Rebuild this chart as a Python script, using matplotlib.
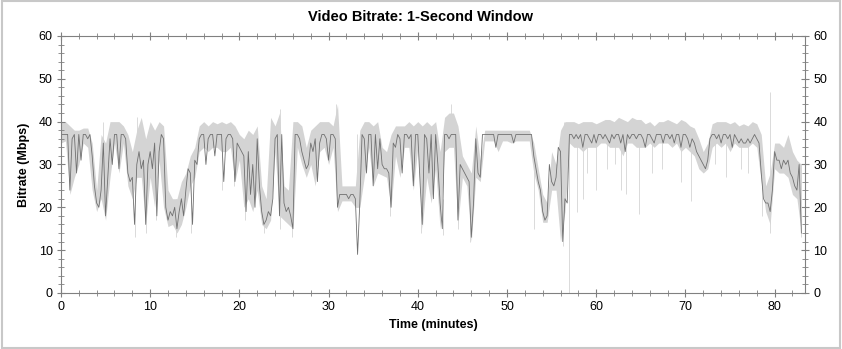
import numpy as np
import matplotlib
matplotlib.use("Agg")
import matplotlib.pyplot as plt
from matplotlib.patches import Rectangle
from matplotlib.ticker import MultipleLocator

# Bitrate trace (Mbps), one value every 0.25 minutes
bitrate = [
    37, 37, 37, 37, 24, 36, 37, 28, 37, 31, 37, 37, 36, 37, 32, 25, 21, 20, 24, 35,
    18, 27, 36, 30, 37, 37, 29, 37, 37, 36, 28, 26, 27, 16, 30, 33, 29, 31, 16, 30,
    33, 29, 35, 18, 33, 37, 36, 20, 17, 19, 18, 20, 15, 19, 22, 18, 24, 29, 28, 16,
    31, 30, 36, 37, 37, 30, 36, 37, 37, 32, 37, 37, 37, 26, 36, 37, 37, 36, 26, 35,
    34, 33, 32, 19, 33, 23, 30, 20, 36, 25, 19, 16, 17, 19, 18, 22, 36, 37, 18, 37,
    21, 19, 20, 18, 15, 37, 37, 36, 33, 31, 29, 30, 35, 33, 36, 26, 35, 37, 37, 36,
    31, 37, 37, 36, 20, 23, 23, 23, 23, 22, 23, 23, 22, 9, 21, 37, 36, 28, 37, 37,
    25, 37, 29, 36, 30, 29, 29, 28, 20, 35, 34, 37, 36, 28, 37, 37, 36, 37, 25, 37,
    37, 26, 16, 37, 36, 28, 37, 22, 37, 30, 21, 15, 37, 37, 36, 37, 37, 37, 17, 30,
    29, 28, 27, 26, 13, 21, 36, 28, 27, 37, 37, 37, 37, 37, 37, 34, 37, 37, 37, 37,
    37, 37, 37, 35, 37, 37, 37, 37, 37, 37, 37, 37, 32, 29, 26, 24, 19, 17, 18, 30,
    26, 25, 27, 34, 33, 12, 22, 21, 37, 37, 36, 37, 36, 37, 34, 37, 37, 36, 35, 37,
    35, 37, 37, 36, 37, 36, 35, 37, 36, 37, 37, 35, 37, 33, 37, 36, 37, 37, 36, 37,
    37, 36, 34, 37, 37, 36, 35, 37, 37, 37, 35, 37, 37, 36, 37, 35, 37, 37, 34, 37,
    37, 36, 34, 36, 35, 33, 32, 31, 30, 29, 31, 36, 37, 37, 36, 37, 35, 37, 37, 36,
    37, 34, 37, 36, 35, 36, 35, 35, 36, 35, 36, 37, 36, 35, 28, 22, 21, 21, 19, 24,
    33, 31, 31, 29, 31, 30, 31, 28, 27, 25, 24, 30, 14,
]
t_line = np.arange(len(bitrate)) * 0.25

# Min / max envelope of the 1-second window, every 0.5 minutes
band_hi = [
    40, 40, 39, 38, 38, 38.5, 38.5, 35, 24, 37,
    35, 40, 40, 40, 39, 37, 33, 38, 41, 36,
    40, 38, 40, 39, 24, 22, 22, 26, 28, 32,
    34, 39, 40, 39, 40, 39.5, 40, 39.5, 40, 39,
    37, 36, 38, 37, 39, 25, 22, 41, 39, 42,
    25, 24, 40, 40, 39, 34, 38, 39, 40, 40,
    40, 39, 44, 25, 25, 25, 25, 38, 40, 40,
    39, 40, 34, 33, 37, 39, 39, 39, 40, 39,
    40, 39, 40, 39, 40, 33, 41, 42, 42, 39,
    32, 30, 28, 39, 31, 38, 38, 38, 38, 38,
    38, 38, 38, 38, 38, 38, 35, 29, 23, 21,
    33, 30, 38, 40, 40, 40, 39.5, 40, 40, 40,
    39.5, 40, 40.5, 40.5, 40, 41, 40.5, 40, 41, 40.5,
    40.5, 39.5, 40, 39, 40, 40, 40.5, 40, 39.5, 40.5,
    40, 39, 38.5, 36, 33, 35, 39.5, 40, 40, 40,
    39.5, 40, 39, 39.5, 39, 40, 39.5, 37, 25, 28,
    35, 35, 34, 37, 33, 31, 30,
]
band_lo = [
    35, 35.5, 23, 27, 30, 35, 34, 24, 19, 22,
    17, 27, 35, 28, 35, 25, 22, 27, 27, 16,
    27, 20, 31, 20, 15.5, 16, 14, 16, 20, 25,
    27, 33, 34, 33, 34, 34, 33, 33, 34, 26,
    31, 20, 22, 19, 24, 16, 15, 17, 33, 18,
    17, 16, 15, 34, 30, 27, 30, 25, 33, 34,
    30, 34, 19, 21.5, 21.5, 21.5, 20, 20, 27, 34,
    25, 28, 27.5, 27, 20, 32, 27, 34, 34, 24,
    34, 15, 27, 21, 29, 15, 33, 34, 34, 16,
    27, 25, 12, 27, 26, 35.5, 35.5, 35.5, 33, 35.5,
    35.5, 35, 35.5, 35.5, 35.5, 35.5, 28, 24, 16.5, 16.5,
    24, 24, 12, 19, 35, 34, 34, 33, 34, 34,
    34, 35, 35, 34, 34, 34, 32, 35, 35, 34,
    34, 34, 35, 34, 35, 35, 35, 34, 35, 33,
    34, 33, 32, 29, 28, 29, 34, 35, 34, 35,
    33, 35, 34, 34, 34, 35, 34, 26, 19, 16,
    29, 28, 28, 27, 23, 22, 14,
]
t_band = np.arange(len(band_hi)) * 0.5

# Single-second spikes outside the envelope
spike_t = [0.9, 4.7, 8.3, 8.5, 9.5, 10.7, 12.9, 14.6, 18.1, 19.4, 20.6, 22.8,
           24.5, 24.5, 25.9, 30.8, 33.2, 36.9, 40.4, 42.8, 43.7, 44.5, 45.8,
           53.0, 56.3, 56.4, 56.9, 57.9, 58.5, 59.0, 60.0, 61.2, 62.1, 62.8,
           63.3, 64.8, 66.2, 67.4, 69.5, 70.6, 73.3, 74.5, 76.2, 77.0, 78.6,
           79.5, 79.5, 83.0]
spike_lo = [26, 24, 13, 30, 14, 17, 13, 14, 24, 25, 17, 14,
            37, 15, 13, 36, 20, 18, 14, 13.5, 37, 15, 12,
            15, 11, 22, 0, 19, 22, 28, 24, 29, 30, 24,
            23, 18.5, 28, 29, 26, 21.5, 30, 27, 29, 28, 18,
            14, 21, 13]
spike_hi = [37, 40, 30, 41, 30, 35, 22, 28, 37, 36, 33, 20,
            43, 37, 20, 44, 37, 35, 37, 22, 44, 30, 26,
            33, 33, 40, 37, 37, 37, 37, 37, 37, 37, 37,
            37, 37, 37, 37, 37, 36, 37, 37, 37, 37, 28,
            22, 47, 30]

plt.rcParams['font.family'] = ['Liberation Sans', 'DejaVu Sans']

fig = plt.figure(figsize=(8.42, 3.49), dpi=100)
ax = fig.add_axes([0.0724, 0.1605, 0.8836, 0.7365])

light = '#d4d4d4'
dark = '#707070'
ax.fill_between(t_band, band_lo, band_hi, color=light, linewidth=0)
ax.vlines(spike_t, spike_lo, spike_hi, color=light, linewidth=0.6)
ax.plot(t_line, bitrate, color=dark, linewidth=0.6)

ax.set_xlim(0, 83.4)
ax.set_ylim(0, 60)
ax.xaxis.set_major_locator(MultipleLocator(10))
ax.xaxis.set_minor_locator(MultipleLocator(2))
ax.yaxis.set_major_locator(MultipleLocator(10))
ax.yaxis.set_minor_locator(MultipleLocator(2))
ax.tick_params(which='both', direction='inout', top=True, right=True,
               labelright=True, color='#808080', labelsize=9, pad=3)
ax.tick_params(which='major', length=6)
ax.tick_params(which='minor', length=4)
for s in ax.spines.values():
    s.set_color('#808080')
    s.set_linewidth(0.8)

ax.set_xlabel('Time (minutes)', fontsize=9, fontweight='bold', labelpad=4)
ax.set_ylabel('Bitrate (Mbps)', fontsize=9, fontweight='bold', labelpad=6)
fig.text(0.5, 0.95, 'Video Bitrate: 1-Second Window', ha='center', va='center',
         fontsize=10.5, fontweight='bold')

# light gray frame round the whole picture
fig.patches.append(Rectangle((0.002, 0.004), 0.996, 0.992, transform=fig.transFigure,
                             fill=False, edgecolor='#c8c8c8', linewidth=1.5))

fig.savefig('out.png', dpi=100)
